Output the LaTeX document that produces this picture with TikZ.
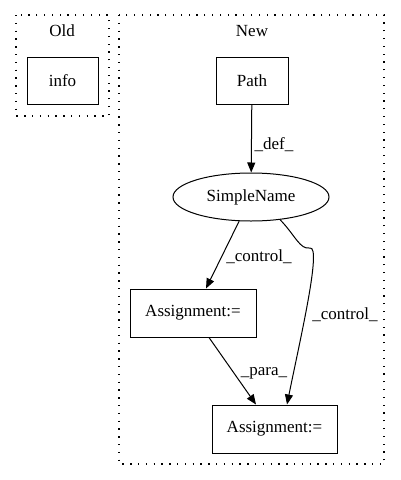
\documentclass[tikz,border=0pt]{standalone}
\usepackage{fontspec}
\setmainfont{Liberation Serif}
\usetikzlibrary{arrows.meta,shapes.geometric}
\begin{document}
\begin{tikzpicture}[x=1pt,y=-1pt,
  every node/.style={font=\fontsize{17}{19}\selectfont},
  box/.style={draw, rectangle, inner sep=0pt, line width=1pt},
  cluster/.style={draw, line width=1.1pt, dash pattern=on 1.3pt off 6.5pt},
  edge/.style={-{Triangle[length=10pt,width=8pt]}, line width=1pt}]
\useasboundingbox (0,0) rectangle (400,480);
\draw[cluster] (16,15) rectangle (109,116);
\draw[cluster] (119,15) rectangle (384,464);
\node (oldlbl) at (62,31) {Old};
\node (newlbl) at (252,31) {New};
\node[box, minimum width=71pt, minimum height=47pt] (info) at (62.5,80.5) {info};
\node[box, minimum width=72pt, minimum height=47pt] (path) at (252,80.5) {Path};
\node[draw, ellipse, line width=1pt, minimum width=156pt, minimum height=48pt, inner sep=0pt] (sn) at (251,197) {SimpleName};
\node[box, minimum width=126pt, minimum height=48pt] (a1) at (193,313) {Assignment:=};
\node[box, minimum width=125pt, minimum height=48pt] (a2) at (274.5,429) {Assignment:=};
\draw[edge] (path) -- (sn);
\node (ldef) at (274,145) {\_def\_};
\draw[edge] (sn) -- ([xshift=13pt]a1.north);
\node (lc1) at (259,257) {\_control\_};
\draw[edge] (sn.-38) .. controls (295,235) and (300,250) .. (310,248) .. controls (322,246) and (300,340) .. ([xshift=12.5pt]a2.north);
\node (lc2) at (345,315) {\_control\_};
\draw[edge] ([xshift=16pt]a1.south) -- ([xshift=-18.5pt]a2.north);
\node (lpara) at (264,373) {\_para\_};
\end{tikzpicture}
\end{document}
